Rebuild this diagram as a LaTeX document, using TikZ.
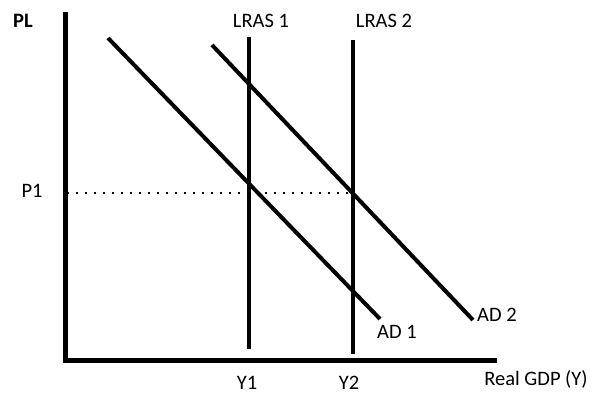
\documentclass[tikz,border=0pt]{standalone}
\usepackage{fontspec}
\setmainfont{Carlito}
\usetikzlibrary{positioning}
\tikzset{
  axisln/.style={line width=5pt,black},
  curve/.style={line width=4pt,black},
  guide/.style={line width=2pt,black,dash pattern=on 2pt off 7pt},
  lbl/.style={font=\fontsize{20.5}{23}\selectfont,inner sep=0pt}
}
\begin{document}
\begin{tikzpicture}[x=1pt,y=-1pt]
\useasboundingbox (0,0) rectangle (600,403);
% axes
\coordinate (o) at (65,361);
\coordinate (ytop) at (65,12);
\coordinate (xend) at (497,361);
\draw[axisln] (ytop) -- (o) -- (xend);
\node[lbl,font=\fontsize{20.5}{23}\selectfont\bfseries] (pl) at (23,21) {PL};
\node[lbl] (gdp) at (536,379) {Real GDP (Y)};
% long run supply
\coordinate (l1top) at (249,37); \coordinate (l1bot) at (249,349);
\coordinate (l2top) at (353,40); \coordinate (l2bot) at (353,354);
\draw[curve] (l1top) -- (l1bot);
\draw[curve] (l2top) -- (l2bot);
\node[lbl] (lras1) at (261,21) {LRAS 1};
\node[lbl] (lras2) at (384,21) {LRAS 2};
\node[lbl] (y1) at (247,383) {Y1};
\node[lbl] (y2) at (349,383) {Y2};
% demand
\coordinate (ad1a) at (108,38); \coordinate (ad1b) at (380,319);
\coordinate (ad2a) at (212,45); \coordinate (ad2b) at (473,320);
\draw[curve] (ad1a) -- (ad1b);
\draw[curve] (ad2a) -- (ad2b);
\node[lbl,anchor=west] (ad1) at (377,332) {AD 1};
\node[lbl,anchor=west] (ad2) at (477,315) {AD 2};
% price level
\coordinate (p1a) at (67,193); \coordinate (p1b) at (353,193);
\draw[guide] (p1a) -- (p1b);
\node[lbl] (p1) at (32,191) {P1};
\end{tikzpicture}
\end{document}
